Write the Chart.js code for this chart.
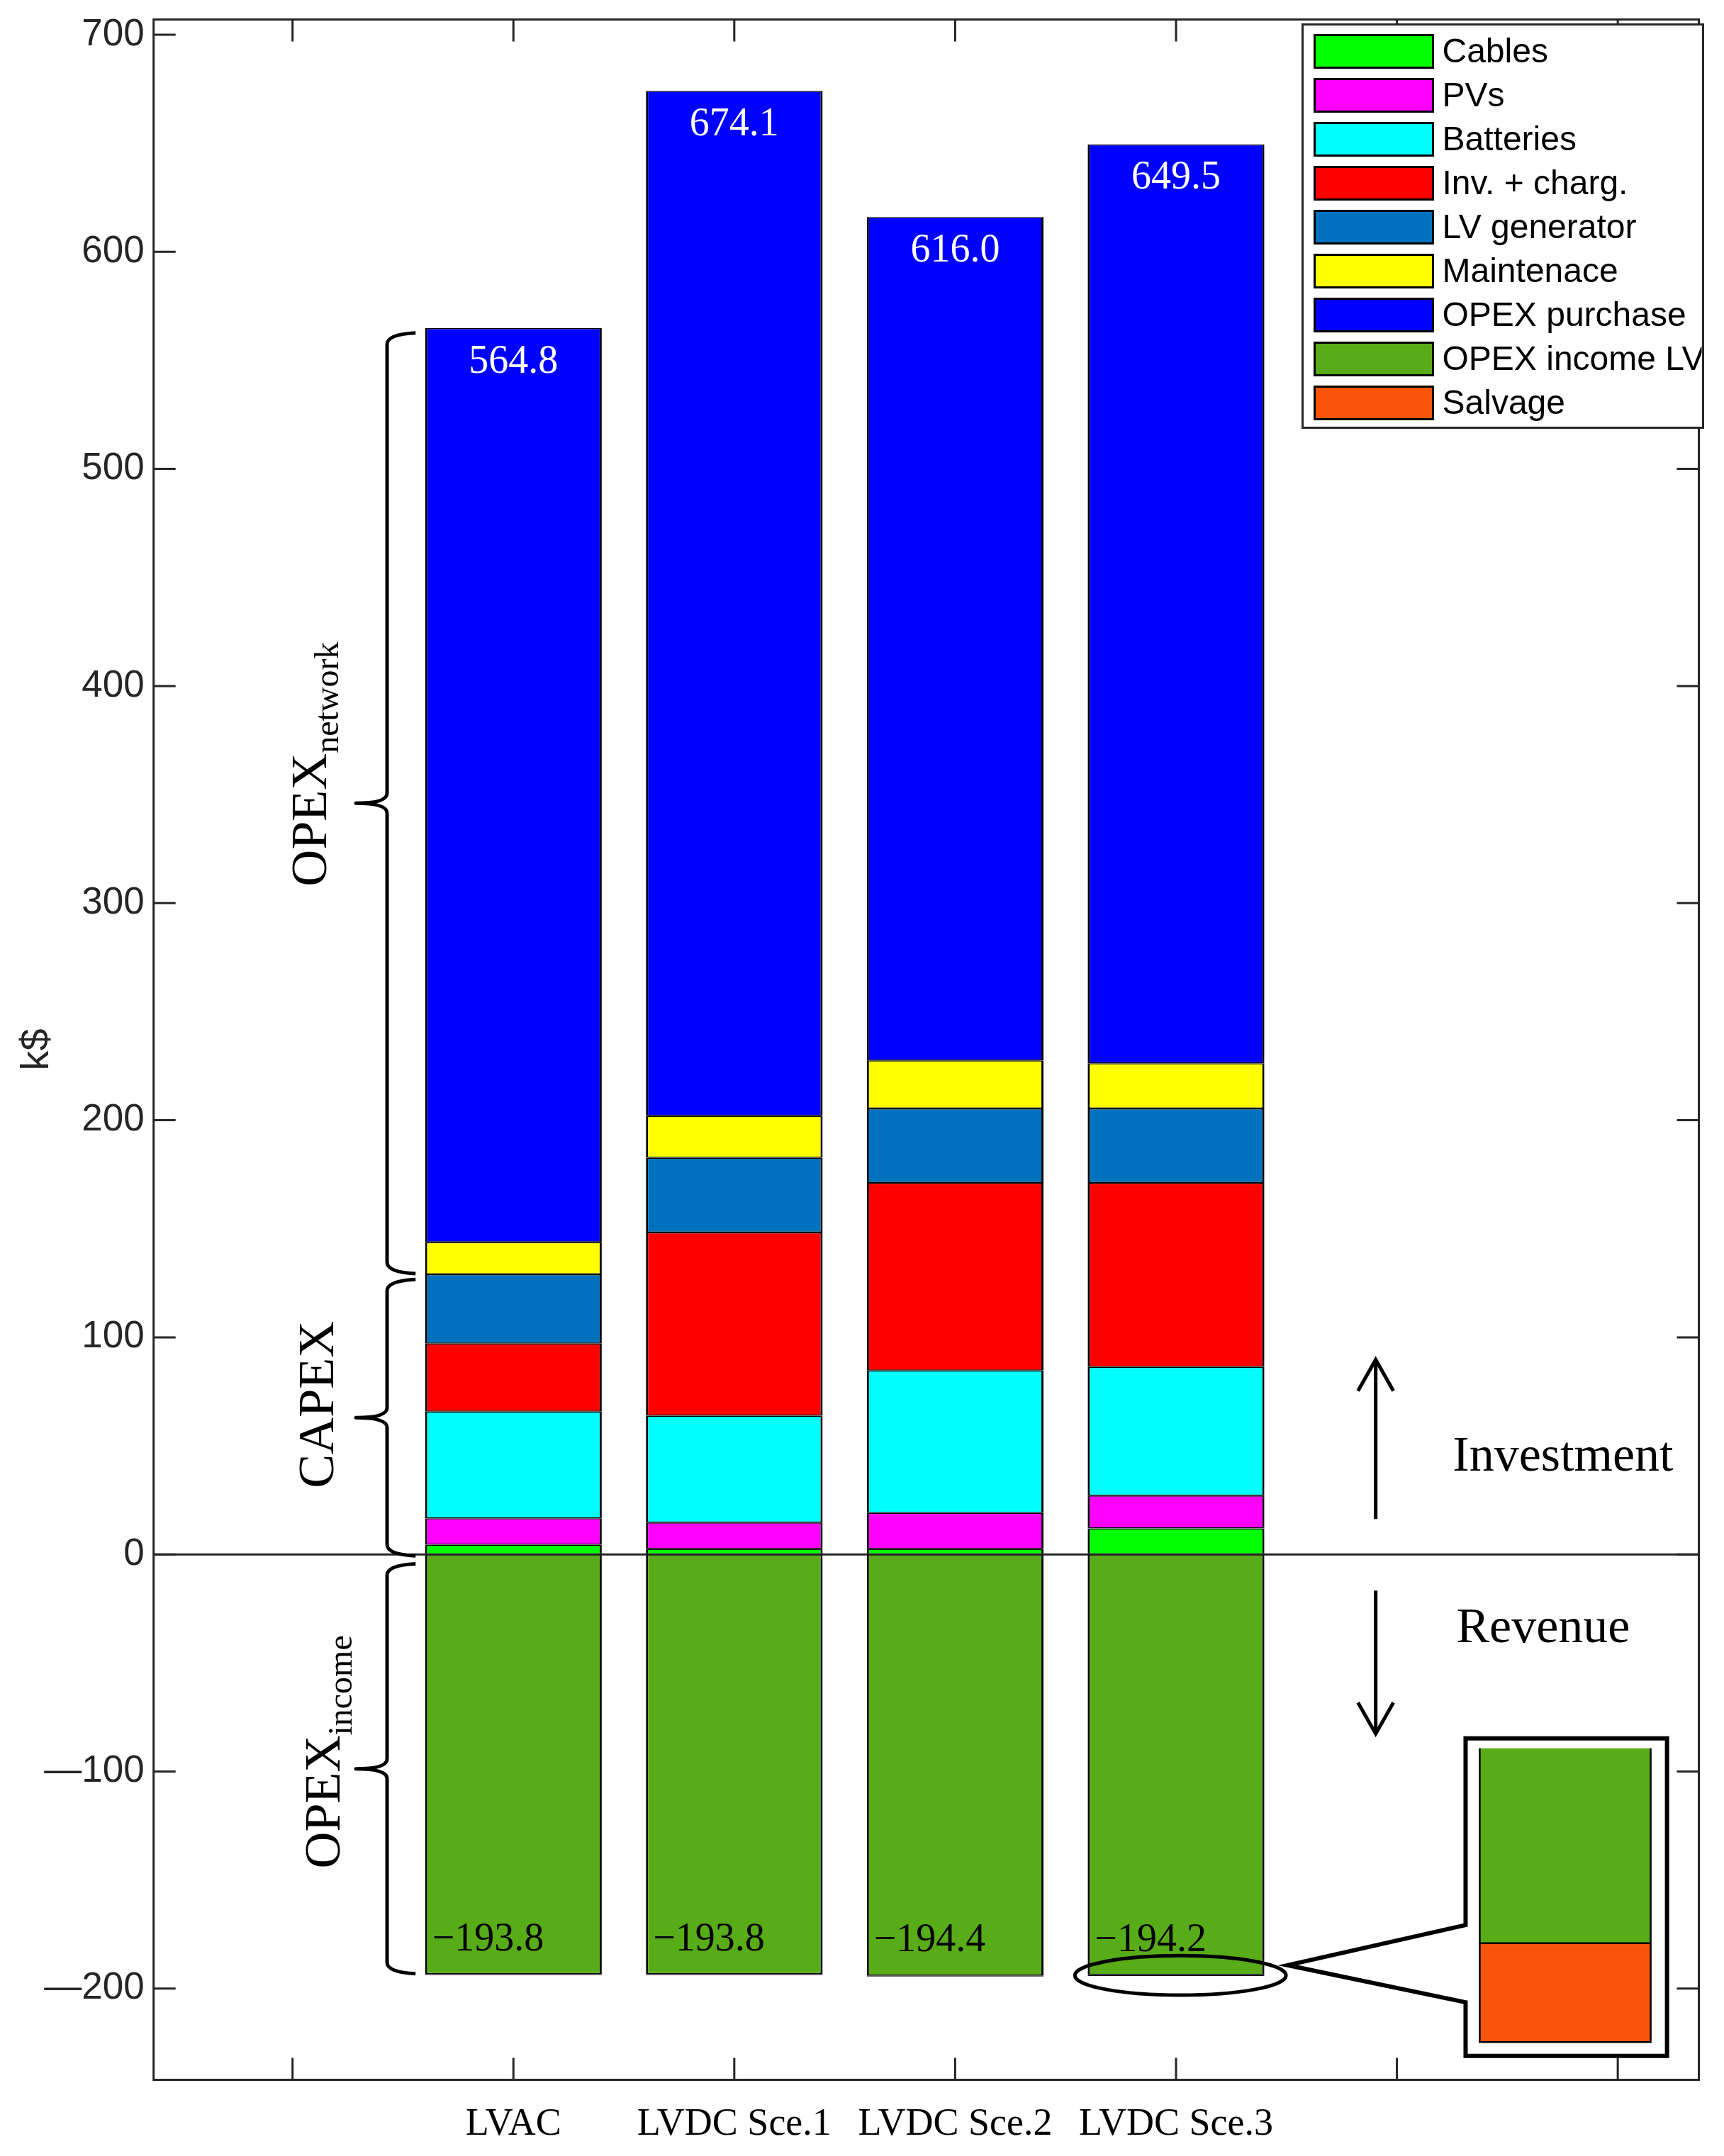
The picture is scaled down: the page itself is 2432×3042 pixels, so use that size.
<!DOCTYPE html>
<html><head><meta charset="utf-8">
<script src="https://cdn.jsdelivr.net/npm/chart.js@4.4.1/dist/chart.umd.min.js"></script>
<style>html,body{margin:0;padding:0;background:#fff;}canvas{display:block;}</style>
</head><body>
<canvas id="c" width="2432" height="3042" style="width:2432px;height:3042px"></canvas>
<script>
// ---- data ----
const categories   = ['LVAC', 'LVDC Sce.1', 'LVDC Sce.2', 'LVDC Sce.3'];
const cables       = [4.5, 2.5, 2.5, 12.0];
const pvs          = [12.1, 12.2, 16.6, 15.1];
const batteries    = [49.2, 49.2, 65.6, 59.2];
const invCharg     = [31.3, 84.4, 86.4, 84.8];
const lvGenerator  = [31.9, 34.4, 34.3, 34.3];
const maintenance  = [14.8, 19.3, 22.1, 20.8];
const opexPurchase = [421.0, 472.1, 388.5, 423.3];
const opexIncome   = [-193.3, -193.3, -193.9, -193.7];
const salvage      = [-0.5, -0.5, -0.5, -0.5];
const seriesNames  = ['Cables','PVs','Batteries','Inv. + charg.','LV generator','Maintenace','OPEX purchase','OPEX income LV','Salvage'];
const seriesColors = ['#00FF00','#FF00FF','#00FFFF','#FF0000','#0072BD','#FFFF00','#0000FF','#58AC18','#F9550A'];
const yTickValues  = [-200,-100,0,100,200,300,400,500,600,700];
const xTickValues  = [0,1,2,3,4,5,6];
const categoryPositions = [1,2,3,4];

const allSeries = [cables,pvs,batteries,invCharg,lvGenerator,maintenance,opexPurchase,opexIncome,salvage];
const posTotals = categories.map((_,i)=>allSeries.slice(0,7).reduce((s,a)=>s+a[i],0));
const negTotals = categories.map((_,i)=>opexIncome[i]+salvage[i]);

// ---- annotation layout (data coordinates) ----
const ann = {
  braces: [
    {y0: 0, y1: 126},
    {y0: 130, y1: 562},
    {y0: -5, y1: -192.5}
  ],
  braceLineX: 0.428, braceTipX: 0.287, braceEndX: 0.557,
  texts: [
    {main:'CAPEX', sub:'', x:0.184, y:69},
    {main:'OPEX', sub:'network', x:0.152, y:364},
    {main:'OPEX', sub:'income', x:0.212, y:-91}
  ],
  arrowX: 4.904,
  upArrow: [16.3, 89.7],
  downArrow: [-16.7, -82.6],
  investment: {x:5.752, y:38.6},
  revenue: {x:5.662, y:-40.3},
  ellipse: {x:4.02, y:-193.9, rx:0.478, ry:9.1},
  callout: {tipX:4.505, tipY:-189.2, attachTop:-170.7, attachBot:-206.3, x0:5.311, x1:6.223, y0:-84.7, y1:-231.0},
  insetBar: {x0:5.375, x1:6.149, top:-89.3, mid:-179.1, bot:-224.6}
};

const datasets = allSeries.map((arr, k) => ({
  label: seriesNames[k],
  data: arr.map((v,i)=>({x: categoryPositions[i], y: v})),
  backgroundColor: seriesColors[k],
  borderColor: '#000000',
  borderWidth: {left:3, right:3, top:1.5, bottom:1.5},
  borderSkipped: false,
  categoryPercentage: 0.8,
  barPercentage: 1.0
}));

const AX = '#262626';
const serif = '"Liberation Serif", "DejaVu Serif", serif';
const sans = '"Liberation Sans", Arial, sans-serif';

const decor = {
  id: 'decor',
  afterDraw(chart) {
    const ctx = chart.ctx, ca = chart.chartArea;
    const xs = chart.scales.x, ys = chart.scales.y;
    const X = v => xs.getPixelForValue(v), Y = v => ys.getPixelForValue(v);
    ctx.save();
    // zero line
    ctx.strokeStyle = AX; ctx.lineWidth = 3;
    ctx.beginPath(); ctx.moveTo(ca.left, Y(0)); ctx.lineTo(ca.right, Y(0)); ctx.stroke();
    // box + ticks
    ctx.strokeRect(ca.left, ca.top, ca.right-ca.left, ca.bottom-ca.top);
    const tl = 31;
    ctx.beginPath();
    yTickValues.forEach(v=>{ const p=Y(v);
      ctx.moveTo(ca.left,p); ctx.lineTo(ca.left+tl,p);
      ctx.moveTo(ca.right,p); ctx.lineTo(ca.right-tl,p); });
    xTickValues.forEach(v=>{ const p=X(v);
      ctx.moveTo(p,ca.bottom); ctx.lineTo(p,ca.bottom-tl);
      ctx.moveTo(p,ca.top); ctx.lineTo(p,ca.top+tl); });
    ctx.stroke();

    // value labels
    const meta = chart.getDatasetMeta(0);
    ctx.font = '56px ' + serif;
    categories.forEach((c,i)=>{
      const xc = X(categoryPositions[i]);
      const half = meta.data[i].width/2;
      ctx.fillStyle = '#FFFFFF'; ctx.textAlign='center'; ctx.textBaseline='middle';
      ctx.fillText(posTotals[i].toFixed(1), xc, Y(posTotals[i]) + 48);
      ctx.fillStyle = '#000000'; ctx.textAlign='left';
      ctx.fillText('\u2212' + Math.abs(negTotals[i]).toFixed(1), xc - half + 10, Y(negTotals[i]) - 50);
    });

    // braces
    ctx.strokeStyle = '#000'; ctx.lineWidth = 5; ctx.lineJoin='round'; ctx.lineCap='butt';
    const xl = X(ann.braceLineX), xt = X(ann.braceTipX), xe = X(ann.braceEndX);
    ann.braces.forEach(b=>{
      const ya = Math.min(Y(b.y0),Y(b.y1)), yb = Math.max(Y(b.y0),Y(b.y1));
      const ym = (ya+yb)/2, r = 14;
      ctx.beginPath();
      ctx.moveTo(xe, ya-2);
      ctx.quadraticCurveTo(xl, ya, xl, ya + r);
      ctx.lineTo(xl, ym - r);
      ctx.quadraticCurveTo(xl, ym, xt, ym);
      ctx.quadraticCurveTo(xl, ym, xl, ym + r);
      ctx.lineTo(xl, yb - r);
      ctx.quadraticCurveTo(xl, yb, xe, yb+2);
      ctx.stroke();
    });

    // rotated labels
    ctx.fillStyle = '#000';
    ann.texts.forEach(t=>{
      ctx.save();
      ctx.translate(X(t.x), Y(t.y));
      ctx.rotate(-Math.PI/2);
      ctx.textAlign='left'; ctx.textBaseline='alphabetic';
      ctx.font = '72px ' + serif;
      const wm = ctx.measureText(t.main).width;
      ctx.font = '48px ' + serif;
      const ws = t.sub ? ctx.measureText(t.sub).width : 0;
      const start = -(wm+ws)/2;
      ctx.font = '72px ' + serif;
      ctx.fillText(t.main, start, 0);
      if (t.sub) { ctx.font = '48px ' + serif; ctx.fillText(t.sub, start+wm, 17); }
      ctx.restore();
    });

    // arrows
    ctx.lineWidth = 5; ctx.lineCap='butt'; ctx.lineJoin='miter';
    const ax = X(ann.arrowX);
    const drawArrow = (yFrom, yTo) => {
      const p0 = Y(yFrom), p1 = Y(yTo), dir = p1 < p0 ? 1 : -1;
      ctx.beginPath(); ctx.moveTo(ax, p0); ctx.lineTo(ax, p1); ctx.stroke();
      ctx.beginPath(); ctx.moveTo(ax-25, p1 + dir*44); ctx.lineTo(ax, p1); ctx.lineTo(ax+25, p1 + dir*44); ctx.stroke();
    };
    drawArrow(ann.upArrow[0], ann.upArrow[1]);
    drawArrow(ann.downArrow[0], ann.downArrow[1]);
    ctx.font = '70px ' + serif; ctx.textAlign='center'; ctx.textBaseline='alphabetic';
    ctx.fillText('Investment', X(ann.investment.x), Y(ann.investment.y));
    ctx.fillText('Revenue', X(ann.revenue.x), Y(ann.revenue.y));

    // ellipse
    const e = ann.ellipse;
    ctx.beginPath();
    ctx.ellipse(X(e.x), Y(e.y), Math.abs(X(e.x+e.rx)-X(e.x)), Math.abs(Y(e.y+e.ry)-Y(e.y)), 0, 0, Math.PI*2);
    ctx.lineWidth = 5; ctx.stroke();

    // callout + inset
    const co = ann.callout;
    ctx.beginPath();
    ctx.moveTo(X(co.x0), Y(co.attachTop));
    ctx.lineTo(X(co.tipX), Y(co.tipY));
    ctx.lineTo(X(co.x0), Y(co.attachBot));
    ctx.lineTo(X(co.x0), Y(co.y1));
    ctx.lineTo(X(co.x1), Y(co.y1));
    ctx.lineTo(X(co.x1), Y(co.y0));
    ctx.lineTo(X(co.x0), Y(co.y0));
    ctx.closePath();
    ctx.fillStyle = '#FFF'; ctx.fill();
    ctx.lineWidth = 6; ctx.strokeStyle='#000'; ctx.stroke();
    const ib = ann.insetBar;
    const bx0 = X(ib.x0), bx1 = X(ib.x1);
    ctx.fillStyle = seriesColors[7];
    ctx.fillRect(bx0, Y(ib.top), bx1-bx0, Y(ib.mid)-Y(ib.top));
    ctx.fillStyle = seriesColors[8];
    ctx.fillRect(bx0, Y(ib.mid), bx1-bx0, Y(ib.bot)-Y(ib.mid));
    ctx.lineWidth = 2.5; ctx.strokeStyle = '#000';
    ctx.beginPath();
    ctx.moveTo(bx0, Y(ib.top)); ctx.lineTo(bx0, Y(ib.bot)); ctx.lineTo(bx1, Y(ib.bot)); ctx.lineTo(bx1, Y(ib.top));
    ctx.moveTo(bx0, Y(ib.mid)); ctx.lineTo(bx1, Y(ib.mid));
    ctx.stroke();

    // legend
    const lx0 = ca.right - 559, ly0 = ca.top + 7, lw = 565, lh = 569;
    ctx.fillStyle = '#FFF'; ctx.fillRect(lx0, ly0, lw, lh);
    ctx.lineWidth = 3; ctx.strokeStyle = AX; ctx.strokeRect(lx0, ly0, lw, lh);
    ctx.save();
    ctx.beginPath(); ctx.rect(lx0, ly0, lw-2, lh); ctx.clip();
    chart.data.datasets.forEach((ds,k)=>{
      const sy = ly0 + 15 + k*62;
      ctx.fillStyle = ds.backgroundColor; ctx.fillRect(lx0+17, sy, 167, 46);
      ctx.lineWidth = 3; ctx.strokeStyle = '#000'; ctx.strokeRect(lx0+17, sy, 167, 46);
      ctx.fillStyle = '#000'; ctx.font = '48px ' + sans; ctx.textAlign='left'; ctx.textBaseline='middle';
      ctx.fillText(ds.label, lx0+197, sy+25);
    });
    ctx.restore();
    ctx.restore();
  }
};

new Chart(document.getElementById('c'), {
  type: 'bar',
  data: { datasets },
  options: {
    responsive: false, devicePixelRatio: 1, animation: false, events: [],
    layout: { padding: {top: 27.5, right: 35.5, left: 0, bottom: 0} },
    plugins: { legend: {display:false}, tooltip: {enabled:false} },
    scales: {
      x: {
        type: 'linear', stacked: true, offset: false, min: -0.629, max: 6.367,
        grid: {display:false, drawTicks:false}, border: {display:false},
        afterBuildTicks: s => { s.ticks = xTickValues.map(v=>({value:v})); },
        afterFit: s => { s.height = 107.5; s.paddingLeft = 0; s.paddingRight = 0; },
        ticks: {
          padding: 31, autoSkip: false, maxRotation: 0, color: '#000',
          font: {family: serif, size: 54},
          callback: v => { const i = categoryPositions.indexOf(v); return i >= 0 ? categories[i] : ''; }
        }
      },
      y: {
        type: 'linear', stacked: true, min: -242, max: 707,
        grid: {display:false, drawTicks:false}, border: {display:false},
        afterBuildTicks: s => { s.ticks = yTickValues.map(v=>({value:v})); },
        afterFit: s => { s.width = 216.7; s.paddingTop = 0; s.paddingBottom = 0; },
        ticks: {
          padding: 13, color: AX, font: {family: sans, size: 53},
          callback: v => v < 0 ? '\u2014' + Math.abs(v) : String(v)
        },
        title: { display: true, text: 'k$', color: AX, font: {family: sans, size: 56}, padding: {top: 19, bottom: 0} }
      }
    }
  },
  plugins: [decor]
});
</script>
</body></html>
